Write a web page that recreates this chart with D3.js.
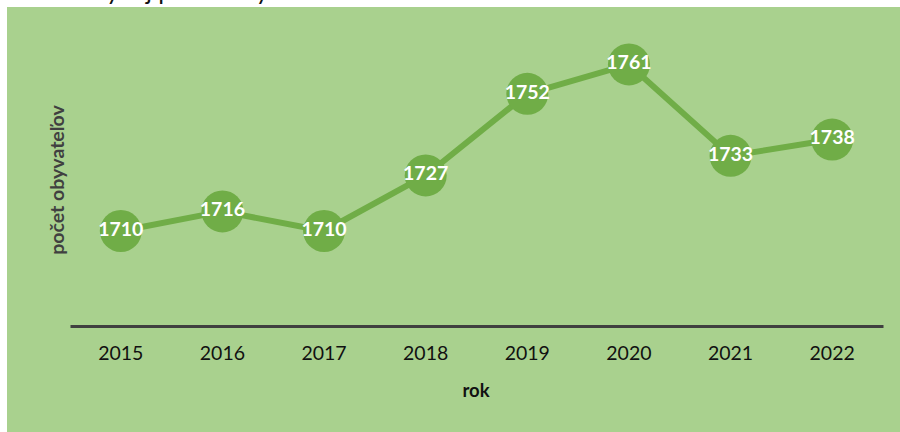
<!DOCTYPE html>
<html><head><meta charset="utf-8">
<script src="https://cdn.jsdelivr.net/npm/d3@7"></script>
<style>html,body{margin:0;padding:0;background:#fff;}svg{display:block;}</style>
</head><body>
<svg id="chart" width="900" height="432"></svg>
<script>
const years = ["2015","2016","2017","2018","2019","2020","2021","2022"];
const population = [1710,1716,1710,1727,1752,1761,1733,1738];
const titleText = "Vývoj počtu obyvateľov";
const yTitle = "počet obyvateľov";
const xTitle = "rok";

const svg = d3.select("#chart");
const W = 900, H = 432;
const font = "Lato, 'Open Sans', sans-serif";

svg.append("rect").attr("x",7).attr("y",7).attr("width",W-7).attr("height",H-7).attr("fill","#A9D18E");

// title sits above the visible area in the reference: only descenders show
svg.append("text").attr("x",90).attr("y",0).attr("font-family",font).attr("font-size",25)
  .attr("fill","#111").text(titleText);

const x = d3.scaleBand().domain(years).range([70,883]);
const y = d3.scaleLinear().domain([1680,1770]).range([329,35]);

const axisY = 326;
const xAxis = svg.append("g").attr("transform",`translate(0,${axisY})`)
  .call(d3.axisBottom(x).tickSize(0).tickPadding(20));
xAxis.select(".domain").attr("stroke","#404040").attr("stroke-width",3);
xAxis.selectAll("text").attr("font-family",font).attr("font-size",19.5).attr("fill","#111");

const line = d3.line().x((d,i)=>x(years[i])+x.bandwidth()/2).y(d=>y(d));
svg.append("path").datum(population).attr("d",line).attr("fill","none")
  .attr("stroke","#70AD47").attr("stroke-width",6).attr("stroke-linejoin","round");

const pts = svg.append("g").selectAll("g").data(population).join("g")
  .attr("transform",(d,i)=>`translate(${x(years[i])+x.bandwidth()/2},${y(d)})`);
pts.append("circle").attr("r",21).attr("fill","#70AD47");
pts.append("text").attr("text-anchor","middle").attr("dy","0.35em").attr("y",-2)
  .attr("font-family",font).attr("font-weight","bold").attr("font-size",19.5)
  .attr("fill","#fff").text(d=>d);

svg.append("text").attr("transform","translate(57,180) rotate(-90)")
  .attr("text-anchor","middle").attr("dy","0.35em")
  .attr("font-family",font).attr("font-weight","bold").attr("font-size",19.5)
  .attr("fill","#404040").text(yTitle);

svg.append("text").attr("x",476).attr("y",397).attr("text-anchor","middle")
  .attr("font-family",font).attr("font-weight","bold").attr("font-size",18.5)
  .attr("fill","#111").text(xTitle);
</script>
</body></html>
